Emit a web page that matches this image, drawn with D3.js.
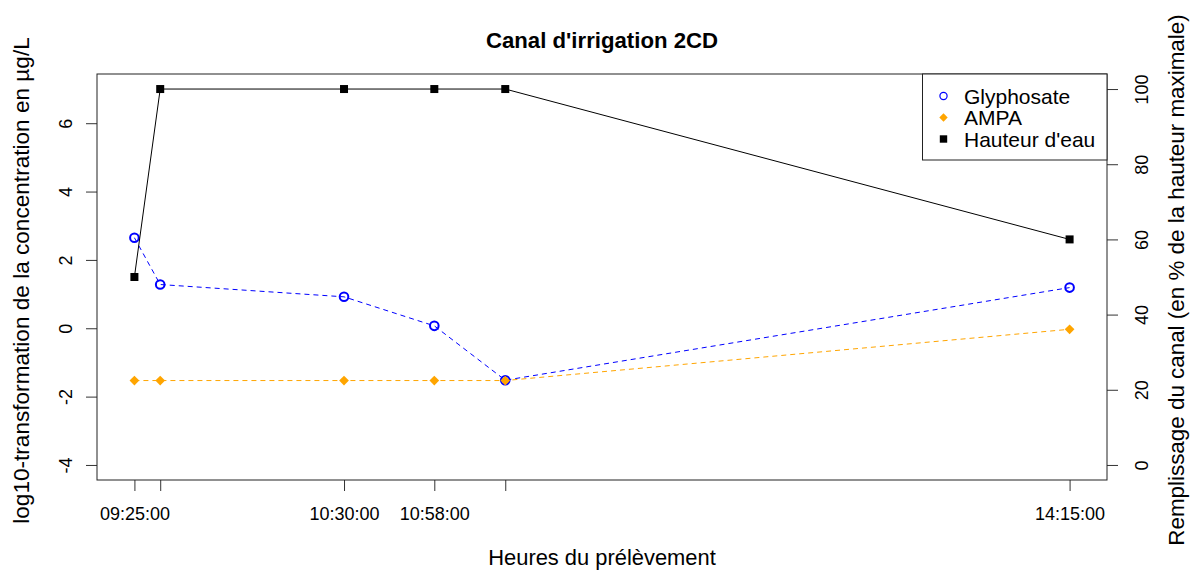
<!DOCTYPE html>
<html>
<head>
<meta charset="utf-8">
<script src="https://cdn.jsdelivr.net/npm/d3@7"></script>
<style>
  html, body { margin: 0; padding: 0; background: #fff; }
  svg { display: block; font-family: "Liberation Sans", Arial, sans-serif; }
</style>
</head>
<body>
<svg id="chart" width="1191" height="571"></svg>
<script>
// ---- Data ----
const times = ["09:25:00", "09:33:00", "10:30:00", "10:58:00", "11:20:00", "14:15:00"];
const timeTickLabels = ["09:25:00", "", "10:30:00", "10:58:00", "", "14:15:00"];
const glyphosate = [2.65, 1.28, 0.92, 0.07, -1.52, 1.19];
const ampa = [-1.53, -1.53, -1.53, -1.53, -1.53, -0.03];
const hauteur = [50, 100, 100, 100, 100, 60];
const leftTicks = [-4, -2, 0, 2, 4, 6];
const rightTicks = [0, 20, 40, 60, 80, 100];
const seriesNames = ["Glyphosate", "AMPA", "Hauteur d'eau"];
const title = "Canal d'irrigation 2CD";
const xLabel = "Heures du prélèvement";
const yLeftLabel = "log10-transformation de la concentration en µg/L";
const yRightLabel = "Remplissage du canal (en % de la hauteur maximale)";

// ---- Layout ----
const plot = { left: 97, right: 1107, top: 74, bottom: 480 };
const svg = d3.select("#chart");

const parse = d3.timeParse("%H:%M:%S");
const tDates = times.map(parse);

function ext(lo, hi) { const e = (hi - lo) * 0.04; return [lo - e, hi + e]; }
const tMin = +tDates[0], tMax = +tDates[tDates.length - 1];
const xd = ext(tMin, tMax);
const x = d3.scaleTime().domain([new Date(xd[0]), new Date(xd[1])]).range([plot.left, plot.right]);
const yL = d3.scaleLinear().domain(ext(-4, 7)).range([plot.bottom, plot.top]);
const yR = d3.scaleLinear().domain(ext(0, 100)).range([plot.bottom, plot.top]);

const tickLen = 11;
const tickFont = 18;
const FONT = "Liberation Sans, Arial, sans-serif";

// X axis
const xAxis = d3.axisBottom(x).tickValues(tDates).tickSize(tickLen).tickSizeOuter(0)
  .tickFormat((d, i) => timeTickLabels[i]);
const gx = svg.append("g").attr("transform", `translate(0,${plot.bottom})`).call(xAxis);
gx.select(".domain").remove();
gx.selectAll(".tick line").attr("stroke", "#333");
gx.selectAll(".tick text").attr("y", 40).attr("dy", 0).attr("font-size", tickFont)
  .attr("fill", "#000").attr("font-family", FONT);

// Left axis
const yAxisL = d3.axisLeft(yL).tickValues(leftTicks).tickSize(tickLen).tickSizeOuter(0)
  .tickFormat(d => String(d));
const gyl = svg.append("g").attr("transform", `translate(${plot.left},0)`).call(yAxisL);
gyl.select(".domain").remove();
gyl.selectAll(".tick line").attr("stroke", "#333");
gyl.selectAll(".tick text").attr("x", null).attr("dy", null)
  .attr("transform", "translate(-25,0) rotate(-90)")
  .attr("text-anchor", "middle").attr("font-size", tickFont).attr("fill", "#000")
  .attr("font-family", FONT);

// Right axis
const yAxisR = d3.axisRight(yR).tickValues(rightTicks).tickSize(tickLen).tickSizeOuter(0)
  .tickFormat(d => String(d));
const gyr = svg.append("g").attr("transform", `translate(${plot.right},0)`).call(yAxisR);
gyr.select(".domain").remove();
gyr.selectAll(".tick line").attr("stroke", "#333");
gyr.selectAll(".tick text").attr("x", null).attr("dy", null)
  .attr("transform", "translate(41,0) rotate(-90)")
  .attr("text-anchor", "middle").attr("font-size", tickFont).attr("fill", "#000")
  .attr("font-family", FONT);

// Box
svg.append("rect").attr("x", plot.left).attr("y", plot.top)
  .attr("width", plot.right - plot.left).attr("height", plot.bottom - plot.top)
  .attr("fill", "none").attr("stroke", "#222").attr("stroke-width", 1);

// ---- Series ----
const gly = tDates.map((d, i) => ({ t: d, v: glyphosate[i] }));
const amp = tDates.map((d, i) => ({ t: d, v: ampa[i] }));
const hau = tDates.map((d, i) => ({ t: d, v: hauteur[i] }));

const lineL = d3.line().x(d => x(d.t)).y(d => yL(d.v));
const lineR = d3.line().x(d => x(d.t)).y(d => yR(d.v));

// Glyphosate
svg.append("path").datum(gly).attr("d", lineL).attr("fill", "none")
  .attr("stroke", "#0000FF").attr("stroke-width", 1).attr("stroke-dasharray", "5,4");
svg.append("g").selectAll("circle").data(gly).join("circle")
  .attr("cx", d => x(d.t)).attr("cy", d => yL(d.v)).attr("r", 4.3)
  .attr("fill", "none").attr("stroke", "#0000FF").attr("stroke-width", 2);

// AMPA
const diamond = d3.symbol().type(d3.symbolDiamond2).size(60);
svg.append("path").datum(amp).attr("d", lineL).attr("fill", "none")
  .attr("stroke", "#FFA500").attr("stroke-width", 1).attr("stroke-dasharray", "5,4");
svg.append("g").selectAll("path").data(amp).join("path")
  .attr("d", diamond).attr("transform", d => `translate(${x(d.t)},${yL(d.v)})`)
  .attr("fill", "#FFA500");

// Hauteur d'eau
svg.append("path").datum(hau).attr("d", lineR).attr("fill", "none")
  .attr("stroke", "#000").attr("stroke-width", 1);
svg.append("g").selectAll("rect").data(hau).join("rect")
  .attr("x", d => x(d.t) - 4).attr("y", d => yR(d.v) - 4)
  .attr("width", 8).attr("height", 8).attr("fill", "#000");

// ---- Legend ----
const lg = svg.append("g");
lg.append("rect").attr("x", 922.5).attr("y", plot.top).attr("width", plot.right - 922.5)
  .attr("height", 86).attr("fill", "#fff").attr("stroke", "#222").attr("stroke-width", 1);
const rowY = [96, 117.5, 139];
const symX = 943.5;
lg.append("circle").attr("cx", symX).attr("cy", rowY[0]).attr("r", 3.6)
  .attr("fill", "none").attr("stroke", "#0000FF").attr("stroke-width", 1.2);
lg.append("path").attr("d", d3.symbol().type(d3.symbolDiamond2).size(45))
  .attr("transform", `translate(${symX},${rowY[1]})`).attr("fill", "#FFA500");
lg.append("rect").attr("x", symX - 3.7).attr("y", rowY[2] - 3.7).attr("width", 7.4).attr("height", 7.4).attr("fill", "#000");
lg.selectAll("text.lgt").data(seriesNames).join("text").attr("class", "lgt")
  .attr("x", 964).attr("y", (d, i) => rowY[i] + 7.5).attr("font-size", 21).attr("fill", "#000")
  .text(d => d);

// ---- Titles ----
svg.append("text").attr("x", (plot.left + plot.right) / 2).attr("y", 48)
  .attr("text-anchor", "middle").attr("font-size", 22.2).attr("font-weight", "bold").text(title);
svg.append("text").attr("x", (plot.left + plot.right) / 2).attr("y", 565)
  .attr("text-anchor", "middle").attr("font-size", 21.9).text(xLabel);
svg.append("text").attr("transform", `translate(28.5,280.5) rotate(-90)`)
  .attr("text-anchor", "middle").attr("font-size", 22.6).text(yLeftLabel);
svg.append("text").attr("transform", `translate(1183.5,280) rotate(-90)`)
  .attr("text-anchor", "middle").attr("font-size", 22.4).text(yRightLabel);
</script>
</body>
</html>
